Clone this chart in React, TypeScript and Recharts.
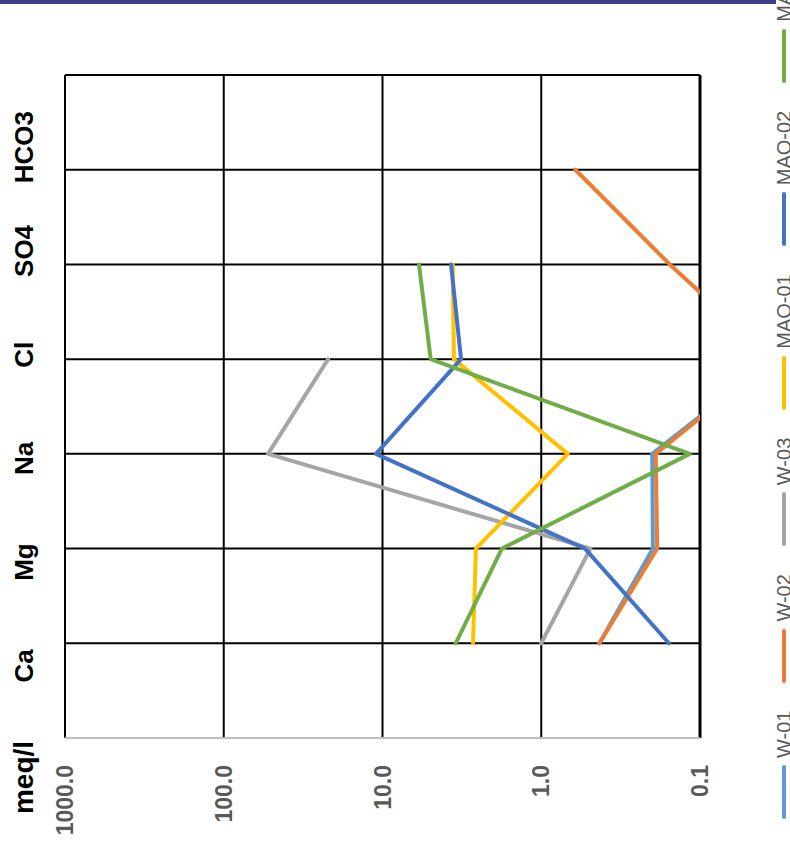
import React from "react";
import { LineChart, Line, XAxis, YAxis, CartesianGrid, Legend, ReferenceLine } from "recharts";

// ion order along the category axis (first slot is the unit label, last slot is empty)
const ions = ["Ca", "Mg", "Na", "Cl", "SO4", "HCO3"];
const categories = ["meq/l", ...ions, ""];
const valueTicks = [0.1, 1, 10, 100, 1000];

// meq/l per ion, same order as `ions`; null = not measured
const w01 = [0.43, 0.198, 0.2, 0.035, null, null];
const w02 = [0.43, 0.186, 0.19, 0.035, 0.155, 0.61];
const w03 = [1.0, 0.49, 52.6, 22.0, null, null];
const mao01 = [2.69, 2.58, 0.68, 3.55, 3.61, null];
const mao02 = [0.157, 0.53, 11.0, 3.2, 3.7, null];
const mao03 = [3.46, 1.77, 0.116, 4.97, 5.89, null];

const series = [
  { name: "W-01", values: w01, color: "#5B9BD5" },
  { name: "W-02", values: w02, color: "#ED7D31" },
  { name: "W-03", values: w03, color: "#A5A5A5" },
  { name: "MAO-01", values: mao01, color: "#FFC000" },
  { name: "MAO-02", values: mao02, color: "#4472C4" },
  { name: "MAO-03", values: mao03, color: "#70AD47" },
];

const rows = categories.map((cat, i) => {
  const row: Record<string, string | number | null> = { ion: cat };
  series.forEach(s => {
    row[s.name] = i >= 1 && i <= ions.length ? s.values[i - 1] : null;
  });
  return row;
});

const FONT = "'Liberation Sans', Arial, sans-serif";
const W = 843;
const H = 790;

function IonTick(props: any) {
  const { x, y, payload } = props;
  const label = payload.value as string;
  if (!label) return null;
  // labels sit a bit wider apart than the grid lines
  const cx = 436.5 + (x - 436.5) * 1.095;
  const isUnit = label === "meq/l";
  return (
    <text
      x={isUnit ? cx - 8 : cx}
      y={y - 32}
      textAnchor="middle"
      fontFamily={FONT}
      fontWeight="bold"
      fontSize={isUnit ? 28 : 26}
      fill="#000"
    >
      {label}
    </text>
  );
}

function ValueTick(props: any) {
  const { x, y, payload } = props;
  return (
    <text x={x} y={y + 8} textAnchor="end" fontFamily={FONT} fontWeight="bold" fontSize={23} fill="#595959">
      {Number(payload.value).toFixed(1)}
    </text>
  );
}

// legend keeps the series order (recharts would sort it by name)
function LegendContent() {
  return (
    <div style={{ display: "flex", alignItems: "center", height: 26, paddingLeft: 24, fontFamily: FONT }}>
      {series.map(s => (
        <div key={s.name} style={{ display: "flex", alignItems: "center", marginRight: 28 }}>
          <span style={{ display: "inline-block", width: 54, height: 4, borderRadius: 2, background: s.color, marginRight: 7 }} />
          <span style={{ fontSize: 20, color: "#595959", whiteSpace: "nowrap" }}>{s.name}</span>
        </div>
      ))}
    </div>
  );
}

export default function App() {
  return (
    <div style={{ position: "absolute", left: 0, top: 0, width: 790, height: 843, overflow: "hidden", background: "#fff" }}>
      <div
        style={{
          position: "absolute",
          left: 0,
          top: 0,
          width: W,
          height: H,
          transformOrigin: "0 0",
          transform: `translate(0px, ${W}px) rotate(-90deg)`,
        }}
      >
        <LineChart width={W} height={H} data={rows} margin={{ top: 5, right: 75, bottom: 90, left: 5 }} style={{ fontFamily: FONT }}>
          <CartesianGrid stroke="#000" strokeWidth={2} />
          <XAxis
            dataKey="ion"
            orientation="top"
            height={60}
            axisLine={false}
            tickLine={false}
            tickSize={0}
            tickMargin={0}
            interval={0}
            tick={<IonTick />}
          />
          <YAxis
            scale="log"
            domain={[0.1, 1000]}
            allowDataOverflow
            ticks={valueTicks}
            width={100}
            tickSize={0}
            tickMargin={27}
            tickLine={false}
            axisLine={{ stroke: "#BFBFBF", strokeWidth: 2 }}
            tick={<ValueTick />}
          />
          <ReferenceLine y={0.1} stroke="#000" strokeWidth={3} />
          {series.map(s => (
            <Line
              key={s.name}
              dataKey={s.name}
              name={s.name}
              stroke={s.color}
              strokeWidth={4}
              strokeLinejoin="round"
              strokeLinecap="round"
              dot={false}
              activeDot={false}
              isAnimationActive={false}
            />
          ))}
          <Legend
            layout="horizontal"
            verticalAlign="middle"
            align="center"
            wrapperStyle={{ top: 771, left: 0, width: W, height: 26 }}
            content={<LegendContent />}
          />
        </LineChart>
      </div>
      <div style={{ position: "absolute", left: 0, top: 0, width: 776, height: 4, background: "#3D3F8E" }} />
    </div>
  );
}
